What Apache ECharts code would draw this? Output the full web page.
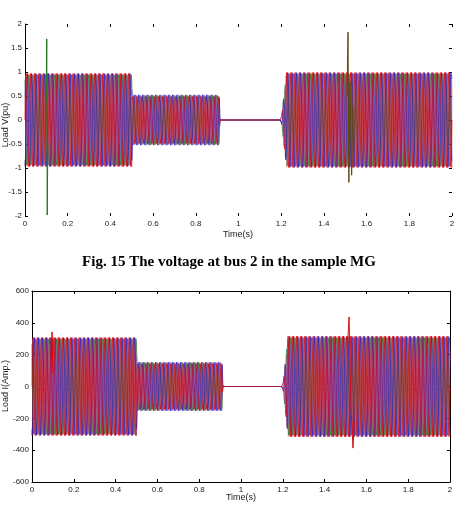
<!DOCTYPE html>
<html>
<head>
<meta charset="utf-8">
<script src="https://cdn.jsdelivr.net/npm/echarts@6/dist/echarts.min.js"></script>
<style>
html,body{margin:0;padding:0;background:#fff;}
#c{width:464px;height:506px;}
</style>
</head>
<body>
<div id="c"></div>
<script>
// ---- data ----
const timeTicks = [0, 0.2, 0.4, 0.6, 0.8, 1, 1.2, 1.4, 1.6, 1.8, 2];
const voltTicks = [-2, -1.5, -1, -0.5, 0, 0.5, 1, 1.5, 2];
const currTicks = [-600, -400, -200, 0, 200, 400, 600];

// amplitude envelope (peak of the three-phase waves) at breakpoints
const envTimes = [0, 0.5, 0.503, 0.91, 0.913, 1.2, 1.225, 2];
const voltEnvelope = [0.97, 0.97, 0.53, 0.53, 0, 0, 0.99, 0.99];
const currEnvelope = [308, 308, 155, 155, 0, 0, 316, 316];
const supplyFreqHz = 50;

// phase traces (colour + phase angle in degrees), drawn in this order
const phaseColors = ['#f07090', '#1e7a1e', '#9a1e1e', '#7a5cc8', '#1a1ad0', '#e00000'];
const phaseAngles = [150, 120, 270, 30, 240, 0];
const phaseOpacity = [0.8, 0.85, 0.8, 0.75, 0.85, 0.9];

// switching transients
const voltSpikeA_t = [0.099, 0.102, 0.104, 0.107];
const voltSpikeA_v = [0.4, 1.69, -1.98, -0.5];
const voltSpikeB_t = [1.508, 1.513, 1.517, 1.522, 1.53, 1.536];
const voltSpikeB_v = [0.5, 1.83, -1.3, 0.8, -1.15, 0.3];
const currSpikeA_t = [0.092, 0.096, 0.1];
const currSpikeA_v = [180, 343, 80];
const currSpikeB_t = [1.51, 1.517, 1.526, 1.536, 1.542];
const currSpikeB_v = [260, 437, -120, -387, -220];

// ---- build series ----
function envAt(env, t) {
  for (let i = 0; i < envTimes.length - 1; i++) {
    if (t >= envTimes[i] && t <= envTimes[i + 1]) {
      const f = (t - envTimes[i]) / (envTimes[i + 1] - envTimes[i] || 1);
      return env[i] + f * (env[i + 1] - env[i]);
    }
  }
  return env[env.length - 1];
}
function wave(env, angleDeg) {
  const pts = [];
  const perCycle = 16;
  const n = Math.round(2 * supplyFreqHz * perCycle);
  for (let k = 0; k <= n; k++) {
    const t = k * 2 / n;
    const a = envAt(env, t);
    pts.push([t, a * Math.sin(2 * Math.PI * supplyFreqHz * t + angleDeg * Math.PI / 180)]);
  }
  return pts;
}
function zipPts(ts, vs) { return ts.map((t, i) => [t, vs[i]]); }

const series = [];
phaseColors.forEach((col, i) => {
  const ls = {color: col, width: 0.75, opacity: phaseOpacity[i]};
  series.push({type: 'line', xAxisIndex: 0, yAxisIndex: 0, data: wave(voltEnvelope, phaseAngles[i]),
    showSymbol: false, symbol: 'none', lineStyle: ls, animation: false, silent: true});
  series.push({type: 'line', xAxisIndex: 2, yAxisIndex: 2, data: wave(currEnvelope, phaseAngles[i]),
    showSymbol: false, symbol: 'none', lineStyle: ls, animation: false, silent: true});
});
const spikeSets = [
  [0, voltSpikeA_t, voltSpikeA_v, '#1e7a1e'],
  [0, voltSpikeB_t, voltSpikeB_v, '#5a4a10'],
  [2, currSpikeA_t, currSpikeA_v, '#e00000'],
  [2, currSpikeB_t, currSpikeB_v, '#d01010']
];
spikeSets.forEach(s => {
  series.push({type: 'line', xAxisIndex: s[0], yAxisIndex: s[0], data: zipPts(s[1], s[2]),
    showSymbol: false, symbol: 'none', lineStyle: {color: s[3], width: 1}, animation: false, silent: true});
});

const lblFont = {fontFamily: 'Liberation Sans, Arial, sans-serif', fontSize: 8, color: '#222'};
function xAx(grid, pos, showLine, showLabel) {
  return {type: 'value', gridIndex: grid, position: pos, min: 0, max: 2, interval: 0.2,
    axisLine: {show: showLine, onZero: false, lineStyle: {color: '#000', width: 1}},
    axisTick: {show: true, inside: true, length: 3, lineStyle: {color: '#000'}},
    axisLabel: Object.assign({show: showLabel, margin: 4, formatter: v => String(Math.round(v * 10) / 10)}, lblFont),
    splitLine: {show: false}};
}
function yAx(grid, pos, min, max, interval, showLine, showLabel) {
  return {type: 'value', gridIndex: grid, position: pos, min: min, max: max, interval: interval,
    axisLine: {show: showLine, onZero: false, lineStyle: {color: '#000', width: 1}},
    axisTick: {show: true, inside: true, length: 3, lineStyle: {color: '#000'}},
    axisLabel: Object.assign({show: showLabel, margin: 3}, lblFont),
    splitLine: {show: false}};
}

const option = {
  backgroundColor: '#fff',
  animation: false,
  grid: [
    {left: 25, top: 24, width: 427, height: 192},
    {left: 32, top: 291, width: 418, height: 191}
  ],
  xAxis: [
    xAx(0, 'bottom', false, true),
    xAx(0, 'top', false, false),
    xAx(1, 'bottom', true, true),
    xAx(1, 'top', true, false)
  ],
  yAxis: [
    yAx(0, 'left', voltTicks[0], voltTicks[voltTicks.length - 1], 0.5, true, true),
    yAx(0, 'right', voltTicks[0], voltTicks[voltTicks.length - 1], 0.5, false, false),
    yAx(1, 'left', currTicks[0], currTicks[currTicks.length - 1], 200, true, true),
    yAx(1, 'right', currTicks[0], currTicks[currTicks.length - 1], 200, true, false)
  ],
  series: series,
  graphic: [
    {type: 'text', x: 6, y: 125, rotation: Math.PI / 2,
      style: {text: 'Load V(pu)', align: 'center', verticalAlign: 'middle', font: '9px Liberation Sans, Arial, sans-serif', fill: '#222'}},
    {type: 'text', x: 6, y: 386, rotation: Math.PI / 2,
      style: {text: 'Load I(Amp.)', align: 'center', verticalAlign: 'middle', font: '9px Liberation Sans, Arial, sans-serif', fill: '#222'}},
    {type: 'text', x: 238, y: 235,
      style: {text: 'Time(s)', align: 'center', verticalAlign: 'middle', font: '9px Liberation Sans, Arial, sans-serif', fill: '#222'}},
    {type: 'text', x: 241, y: 498,
      style: {text: 'Time(s)', align: 'center', verticalAlign: 'middle', font: '9px Liberation Sans, Arial, sans-serif', fill: '#222'}},
    {type: 'text', x: 229, y: 262,
      style: {text: 'Fig. 15 The voltage at bus 2 in the sample MG', align: 'center', verticalAlign: 'middle',
        font: 'bold 15px Liberation Serif, Times New Roman, serif', fill: '#000'}}
  ]
};

const chart = echarts.init(document.getElementById('c'), null, {renderer: 'canvas'});
chart.setOption(option);
</script>
</body>
</html>
